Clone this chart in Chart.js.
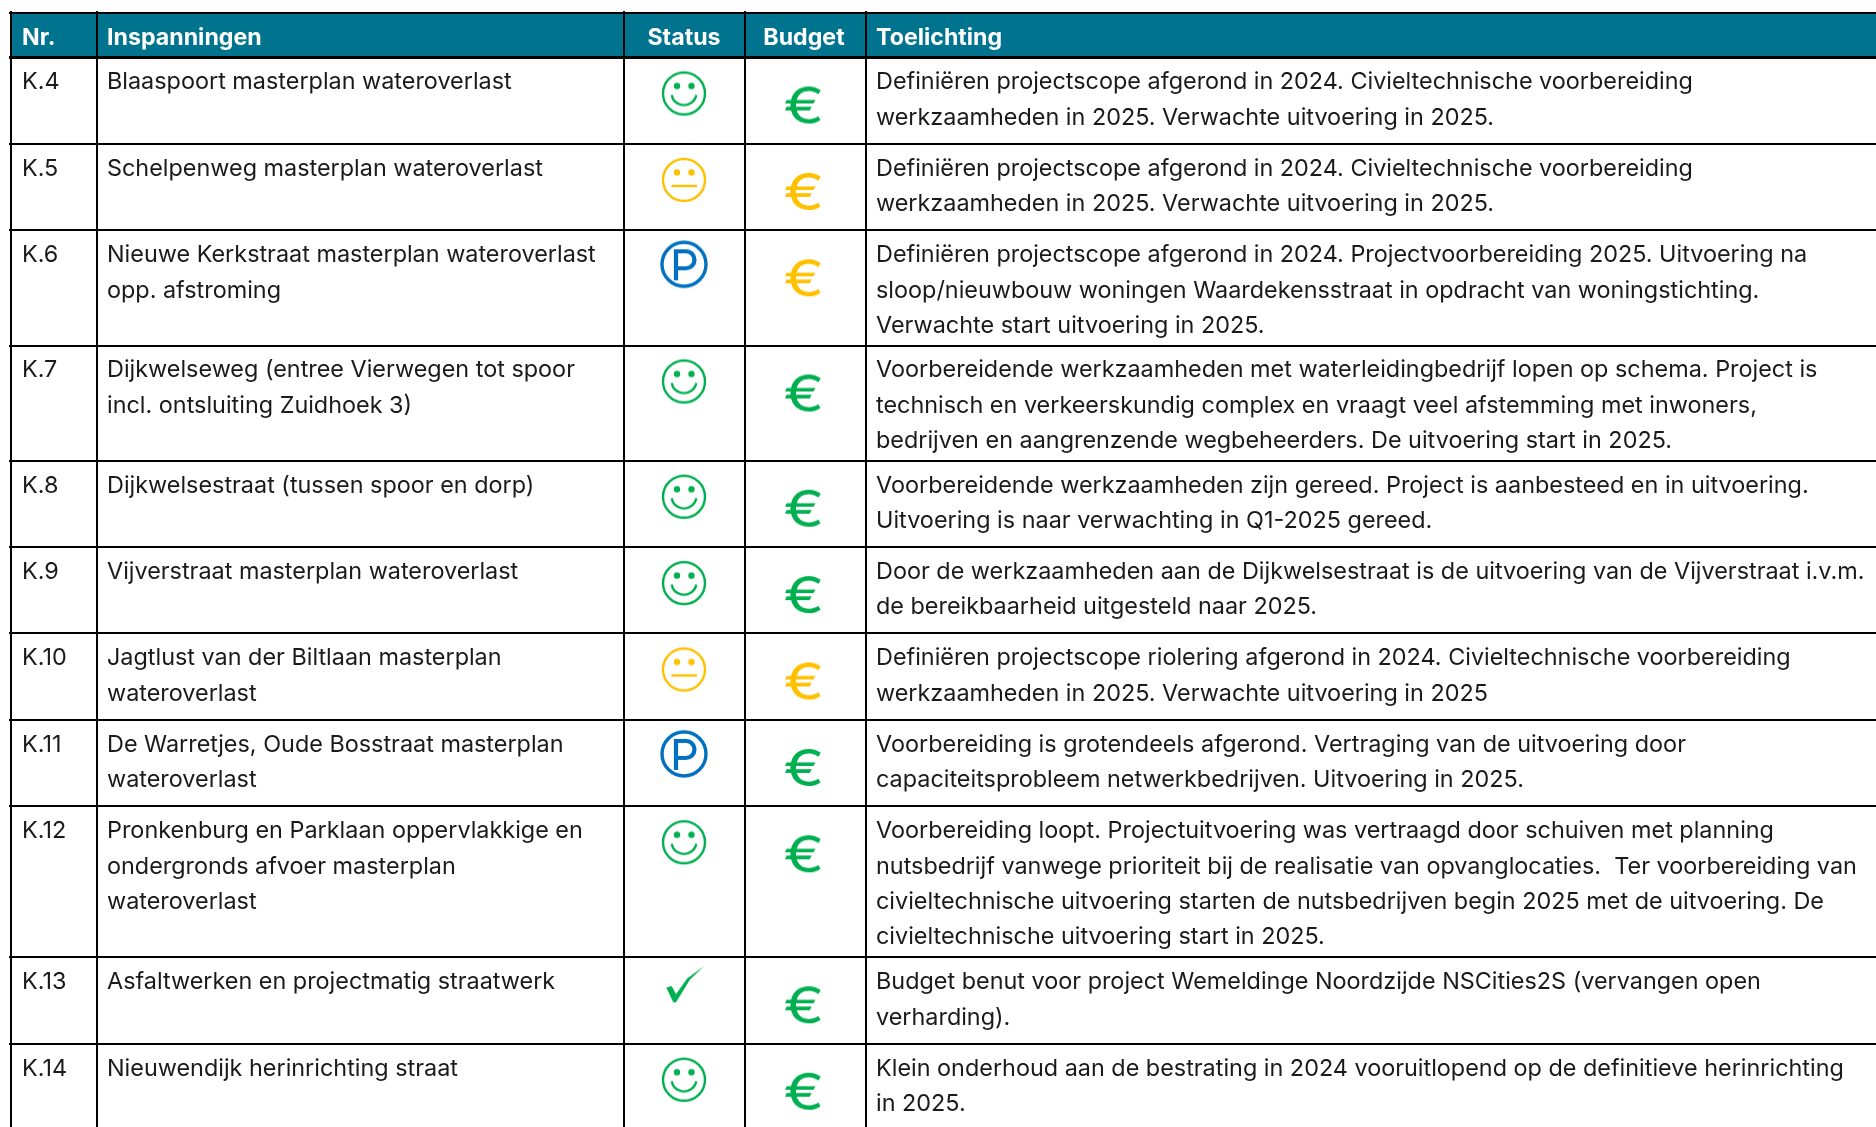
<!DOCTYPE html>
<html>
<head>
<meta charset="utf-8">
<script src="https://cdn.jsdelivr.net/npm/chart.js@4"></script>
<style>
  html, body { margin: 0; padding: 0; background: #fff; overflow: hidden; }
  canvas { display: block; }
</style>
</head>
<body>
<canvas id="tableChart" width="1876" height="1127"></canvas>
<script>
var headers = ['Nr.', 'Inspanningen', 'Status', 'Budget', 'Toelichting'];
var rowNr = ['K.4', 'K.5', 'K.6', 'K.7', 'K.8', 'K.9', 'K.10', 'K.11', 'K.12', 'K.13', 'K.14'];
var efforts = [
  ['Blaaspoort masterplan wateroverlast'],
  ['Schelpenweg masterplan wateroverlast'],
  ['Nieuwe Kerkstraat masterplan wateroverlast', 'opp. afstroming'],
  ['Dijkwelseweg (entree Vierwegen tot spoor', 'incl. ontsluiting Zuidhoek 3)'],
  ['Dijkwelsestraat (tussen spoor en dorp)'],
  ['Vijverstraat masterplan wateroverlast'],
  ['Jagtlust van der Biltlaan masterplan', 'wateroverlast'],
  ['De Warretjes, Oude Bosstraat masterplan', 'wateroverlast'],
  ['Pronkenburg en Parklaan oppervlakkige en', 'ondergronds afvoer masterplan', 'wateroverlast'],
  ['Asfaltwerken en projectmatig straatwerk'],
  ['Nieuwendijk herinrichting straat']
];
var statuses = ['happy', 'neutral', 'parked', 'happy', 'happy', 'happy', 'neutral', 'parked', 'happy', 'done', 'happy'];
var budgets = ['green', 'amber', 'amber', 'green', 'green', 'green', 'amber', 'green', 'green', 'green', 'green'];
var notes = [
  ['Definiëren projectscope afgerond in 2024. Civieltechnische voorbereiding', 'werkzaamheden in 2025. Verwachte uitvoering in 2025.'],
  ['Definiëren projectscope afgerond in 2024. Civieltechnische voorbereiding', 'werkzaamheden in 2025. Verwachte uitvoering in 2025.'],
  ['Definiëren projectscope afgerond in 2024. Projectvoorbereiding 2025. Uitvoering na', 'sloop/nieuwbouw woningen Waardekensstraat in opdracht van woningstichting.', 'Verwachte start uitvoering in 2025.'],
  ['Voorbereidende werkzaamheden met waterleidingbedrijf lopen op schema. Project is', 'technisch en verkeerskundig complex en vraagt veel afstemming met inwoners,', 'bedrijven en aangrenzende wegbeheerders. De uitvoering start in 2025.'],
  ['Voorbereidende werkzaamheden zijn gereed. Project is aanbesteed en in uitvoering.', 'Uitvoering is naar verwachting in Q1-2025 gereed.'],
  ['Door de werkzaamheden aan de Dijkwelsestraat is de uitvoering van de Vijverstraat i.v.m.', 'de bereikbaarheid uitgesteld naar 2025.'],
  ['Definiëren projectscope riolering afgerond in 2024. Civieltechnische voorbereiding', 'werkzaamheden in 2025. Verwachte uitvoering in 2025'],
  ['Voorbereiding is grotendeels afgerond. Vertraging van de uitvoering door', 'capaciteitsprobleem netwerkbedrijven. Uitvoering in 2025.'],
  ['Voorbereiding loopt. Projectuitvoering was vertraagd door schuiven met planning', 'nutsbedrijf vanwege prioriteit bij de realisatie van opvanglocaties.  Ter voorbereiding van', 'civieltechnische uitvoering starten de nutsbedrijven begin 2025 met de uitvoering. De', 'civieltechnische uitvoering start in 2025.'],
  ['Budget benut voor project Wemeldinge Noordzijde NSCities2S (vervangen open', 'verharding).'],
  ['Klein onderhoud aan de bestrating in 2024 vooruitlopend op de definitieve herinrichting', 'in 2025.']
];

// layout, in page pixels (the scales run 1:1 with the canvas)
var colEdges = [10.5, 97, 624, 745, 866];
var textX = [22, 107, 684, 804, 876];
var rowH = { 2: 86.4, 3: 115.2, 4: 151 };
var headTop = 13, headBottom = 57.5;
var rowTops = [];
var yy = headBottom;
notes.forEach(function (n) {
  rowTops.push(yy);
  yy += rowH[n.length];
});
var rowEdges = [headTop].concat(rowTops).concat([yy]);

var colours = { green: '#00b050', amber: '#ffc000', blue: '#0070c0' };
var statusColour = { happy: colours.green, neutral: colours.amber, parked: colours.blue, done: colours.green };
var statusOffset = { happy: 36, neutral: 36, parked: 34, done: 27 };
var budgetOffset = 47;
var fontName = 'Inter, "Liberation Sans", sans-serif';

function blankIcon(size) {
  var c = document.createElement('canvas');
  c.width = size; c.height = size;
  var g = c.getContext('2d');
  g.translate(size / 2, size / 2);
  return { c: c, g: g };
}

function statusIcon(kind) {
  var ic = blankIcon(64), g = ic.g, col = statusColour[kind];
  g.strokeStyle = col; g.fillStyle = col; g.lineCap = 'butt';
  if (kind === 'happy' || kind === 'neutral') {
    g.lineWidth = 2.4;
    g.beginPath(); g.arc(0, 0, 21, 0, Math.PI * 2); g.stroke();
    g.beginPath(); g.arc(-7, -7.5, 3.2, 0, Math.PI * 2); g.arc(7.5, -7.5, 3.2, 0, Math.PI * 2); g.fill();
    g.beginPath();
    if (kind === 'happy') {
      g.arc(0, -1, 12.6, 0.2, Math.PI - 0.2);
    } else {
      g.moveTo(-12.5, 6); g.lineTo(13, 6);
    }
    g.stroke();
  } else if (kind === 'parked') {
    g.lineWidth = 3.4;
    g.beginPath(); g.arc(0, 0, 22, 0, Math.PI * 2); g.stroke();
    g.lineWidth = 4.2;
    g.beginPath();
    g.moveTo(-8, 16); g.lineTo(-8, -13); g.lineTo(2, -13);
    g.arc(2, -4.5, 8.5, -Math.PI / 2, Math.PI / 2);
    g.lineTo(-8, 4);
    g.stroke();
  } else {
    g.translate(1, 0);
    g.beginPath();
    g.moveTo(-18.7, 3.3); g.lineTo(-13.3, 1.7); g.lineTo(-9, 9.7); g.lineTo(2.3, -6);
    g.lineTo(19, -18); g.lineTo(5, -4.7); g.lineTo(-9, 18); g.lineTo(-11.7, 18);
    g.closePath(); g.fill();
  }
  return ic.c;
}

function euroIcon(name) {
  var ic = blankIcon(64), g = ic.g;
  g.fillStyle = colours[name];
  g.font = '400 51px Inter';
  g.textAlign = 'center';
  g.textBaseline = 'alphabetic';
  g.scale(1.2, 1);
  g.fillText('€', 0, 18.5);
  return ic.c;
}

var statusPoints = statuses.map(function (s, i) { return { x: textX[2], y: rowTops[i] + statusOffset[s] }; });
var budgetPoints = budgets.map(function (b, i) { return { x: textX[3], y: rowTops[i] + budgetOffset }; });

var tableText = {
  id: 'tableText',
  afterDraw: function (chart) {
    var ctx = chart.ctx, xs = chart.scales.x, ys = chart.scales.y;
    var lineStep = 35.4, firstBase = 31.8;
    function put(txt, col, y) {
      ctx.fillText(txt, xs.getPixelForValue(textX[col]), ys.getPixelForValue(y));
    }
    ctx.save();
    ctx.textBaseline = 'alphabetic';
    ctx.font = '700 23.2px ' + fontName;
    ctx.fillStyle = '#ffffff';
    headers.forEach(function (h, i) {
      ctx.textAlign = (i === 2 || i === 3) ? 'center' : 'left';
      put(h, i, 44.5);
    });
    ctx.textAlign = 'left';
    ctx.font = '400 23.4px ' + fontName;
    ctx.fillStyle = '#1a1a1a';
    rowNr.forEach(function (nr, r) {
      var base = rowTops[r] + firstBase;
      put(nr, 0, base);
      efforts[r].forEach(function (t, l) { put(t, 1, base + l * lineStep); });
      notes[r].forEach(function (t, l) { put(t, 4, base + l * lineStep); });
    });
    ctx.restore();
  }
};

var ctx = document.getElementById('tableChart').getContext('2d');
var myChart = new Chart(ctx, {
  type: 'scatter',
  data: {
    datasets: [
      {
        label: 'Status',
        data: statusPoints,
        pointStyle: statuses.map(statusIcon),
        pointRadius: 22
      },
      {
        label: 'Budget',
        data: budgetPoints,
        pointStyle: budgets.map(euroIcon),
        pointRadius: 22
      },
      {
        type: 'bar',
        label: 'Kop',
        indexAxis: 'y',
        data: [{ x: [colEdges[0], 1876], y: (headTop + headBottom) / 2 }],
        backgroundColor: '#00738f',
        barThickness: headBottom - headTop,
        borderWidth: 0
      }
    ]
  },
  options: {
    responsive: false,
    animation: false,
    events: [],
    layout: { autoPadding: false, padding: { left: 9, top: 11, right: 0, bottom: 0 } },
    plugins: { legend: { display: false }, tooltip: { enabled: false }, title: { display: false } },
    scales: {
      x: {
        type: 'linear',
        min: 9,
        max: 1876,
        offset: false,
        afterBuildTicks: function (s) { s.ticks = colEdges.map(function (v) { return { value: v }; }); },
        ticks: { display: false },
        border: { display: false },
        grid: { color: '#000000', lineWidth: 2, drawTicks: false, z: 1, offset: false }
      },
      y: {
        type: 'linear',
        reverse: true,
        min: 11,
        max: 1127,
        offset: false,
        afterBuildTicks: function (s) { s.ticks = rowEdges.map(function (v) { return { value: v }; }); },
        ticks: { display: false },
        border: { display: false },
        grid: {
          color: '#000000',
          lineWidth: function (c) { return c.index === 1 ? 3 : 2; },
          drawTicks: false,
          z: 1,
          offset: false
        }
      }
    }
  },
  plugins: [tableText]
});
</script>
</body>
</html>
